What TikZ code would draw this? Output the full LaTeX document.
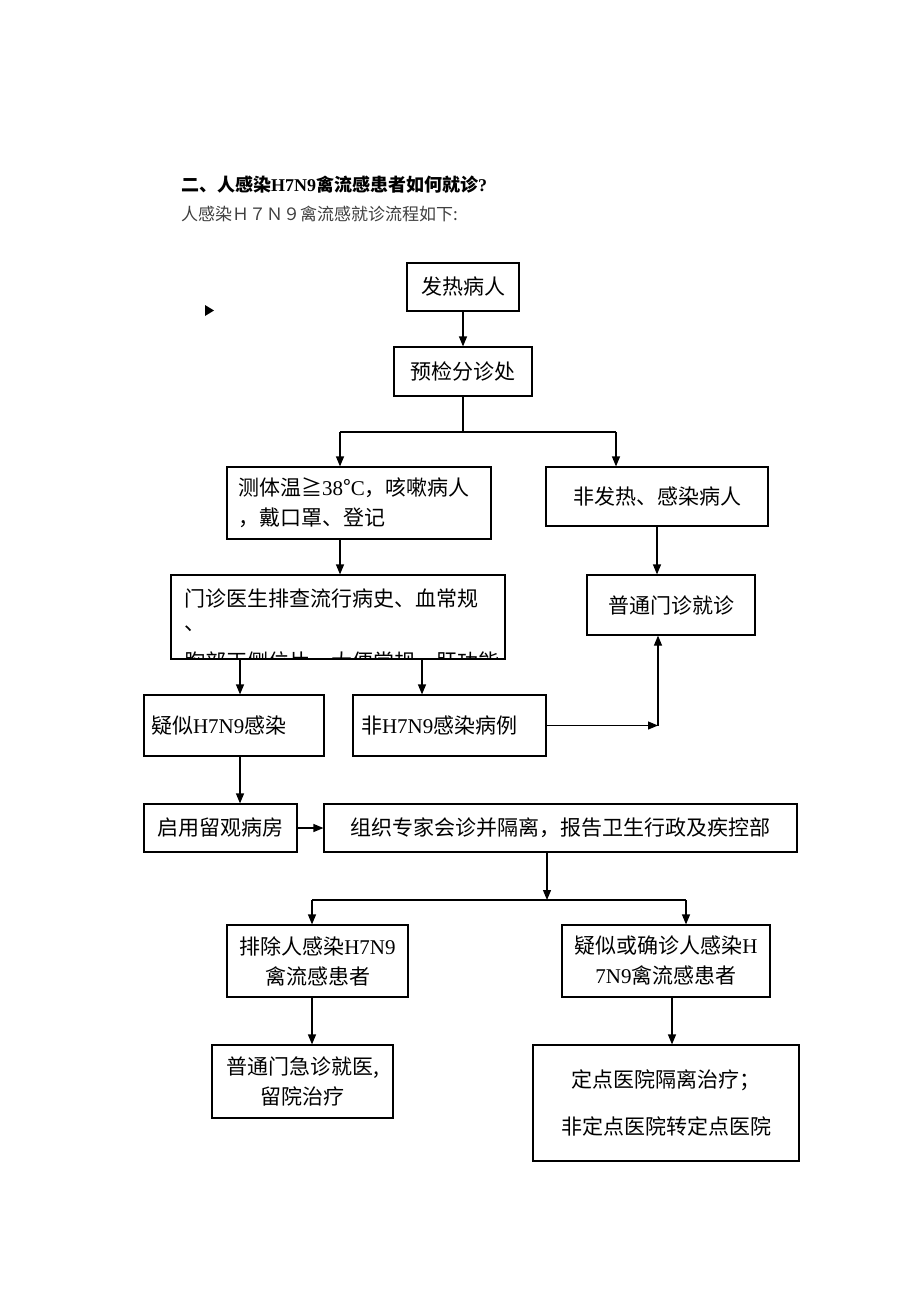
\documentclass[tikz,border=0pt]{standalone}
\usepackage{fontspec}
\setmainfont{Liberation Serif}
\newfontfamily\cjk{Noto Sans CJK SC}
\usetikzlibrary{arrows.meta}
\newcommand{\lat}[1]{{\rmfamily #1}}
\tikzset{
  box/.style={draw=black, line width=1.2pt, inner sep=0pt, font=\cjk\fontsize{21}{30}\selectfont, align=center},
  arr/.style={line width=1.2pt, -{Triangle[length=10pt,width=8pt]}},
  ln/.style={line width=1.2pt},
}
\begin{document}
\begin{tikzpicture}[x=1pt,y=-1pt]
\useasboundingbox[fill=white] (0,0) rectangle (920,1302);

\node[anchor=west, inner sep=0pt, font=\cjk\bfseries\fontsize{18}{20}\selectfont] (title) at (181,185) {二、人感染\lat{\bfseries H7N9}禽流感患者如何就诊\lat{\bfseries ?}};
\node[anchor=west, inner sep=0pt, text=black!75, font=\cjk\fontsize{17}{20}\selectfont] (sub) at (181,214) {人感染Ｈ７Ｎ９禽流感就诊流程如下:};

\fill (205,305) -- (214,310.5) -- (205,316) -- cycle;

\node[box, minimum width=112pt, minimum height=48pt] (fare) at (463,287) {发热病人};
\node[box, minimum width=138pt, minimum height=49pt] (yujian) at (463,371.5) {预检分诊处};
\node[box, minimum width=264pt, minimum height=72pt, text width=242pt, align=left] (ceti) at (359,503) {测体温≧\lat{38}°\lat{C}，咳嗽病人\\，戴口罩、登记};
\node[box, minimum width=222pt, minimum height=59pt] (feifare) at (657,496.5) {非发热、感染病人};
\node[box, minimum width=168pt, minimum height=60pt] (putong) at (671,605) {普通门诊就诊};
\node[box, minimum width=334pt, minimum height=84pt] (menzhen) at (338,617) {};
\begin{scope}
\clip (menzhen.south west) rectangle (menzhen.north east);
\node[anchor=north west, align=left, inner sep=0pt, font=\cjk\fontsize{21}{24}\selectfont] (mztext) at (184,589) {门诊医生排查流行病史、血常规\\、};
\node[anchor=north west, inner sep=0pt, font=\cjk\fontsize{21}{24}\selectfont] (mztext3) at (184,652) {胸部正侧位片、大便常规、肝功能};
\end{scope}
\node[box, minimum width=180pt, minimum height=61pt, text width=166pt, align=left] (yisi) at (234,725.5) {疑似\lat{H7N9}感染};
\node[box, minimum width=193pt, minimum height=61pt, text width=177pt, align=left] (feih7) at (449.5,725.5) {非\lat{H7N9}感染病例};
\node[box, minimum width=153pt, minimum height=48pt] (qiyong) at (220.5,828) {启用留观病房};
\node[box, minimum width=473pt, minimum height=48pt] (zuzhi) at (560.5,828) {组织专家会诊并隔离，报告卫生行政及疾控部};
\node[box, minimum width=181pt, minimum height=72pt] (paichu) at (317.5,961) {排除人感染\lat{H7N9}\\禽流感患者};
\node[box, minimum width=208pt, minimum height=72pt] (quezhen) at (666,961) {疑似或确诊人感染\lat{H}\\\lat{7N9}禽流感患者};
\node[box, minimum width=181pt, minimum height=73pt] (ptmj) at (302.5,1081.5) {普通门急诊就医,\\留院治疗};
\node[box, minimum width=266pt, minimum height=116pt, font=\cjk\fontsize{21}{47}\selectfont] (dingdian) at (666,1103) {定点医院隔离治疗；\\非定点医院转定点医院};

% connectors
\draw[arr] (fare.south) -- (yujian.north);
\coordinate (s1) at (463,432);
\coordinate (bl) at (340,432);
\coordinate (br) at (616,432);
\draw[ln] (yujian.south) -- (s1);
\draw[ln] (bl) -- (br);
\draw[arr] (bl) -- (bl |- ceti.north);
\draw[arr] (br) -- (br |- feifare.north);
\draw[arr] (bl |- ceti.south) -- (bl |- menzhen.north);
\draw[arr] (feifare.south) -- (feifare.south |- putong.north);
\coordinate (xa) at (240,0);
\coordinate (xb) at (422,0);
\coordinate (xc) at (658,0);
\draw[arr] (xa |- menzhen.south) -- (xa |- yisi.north);
\draw[arr] (xb |- menzhen.south) -- (xb |- feih7.north);
\draw[arr] (feih7.east) -- (xc |- feih7.east);
\draw[arr] (xc |- feih7.east) -- (xc |- putong.south);
\draw[arr] (xa |- yisi.south) -- (xa |- qiyong.north);
\draw[arr] (qiyong.east) -- (zuzhi.west);
\coordinate (xd) at (547,0);
\coordinate (s3) at (547,900);
\coordinate (cl) at (312,900);
\coordinate (cr) at (686,900);
\draw[arr] (xd |- zuzhi.south) -- (s3);
\draw[ln] (cl) -- (cr);
\draw[arr] (cl) -- (cl |- paichu.north);
\draw[arr] (cr) -- (cr |- quezhen.north);
\draw[arr] (cl |- paichu.south) -- (cl |- ptmj.north);
\coordinate (xe) at (672,0);
\draw[arr] (xe |- quezhen.south) -- (xe |- dingdian.north);
\end{tikzpicture}
\end{document}
